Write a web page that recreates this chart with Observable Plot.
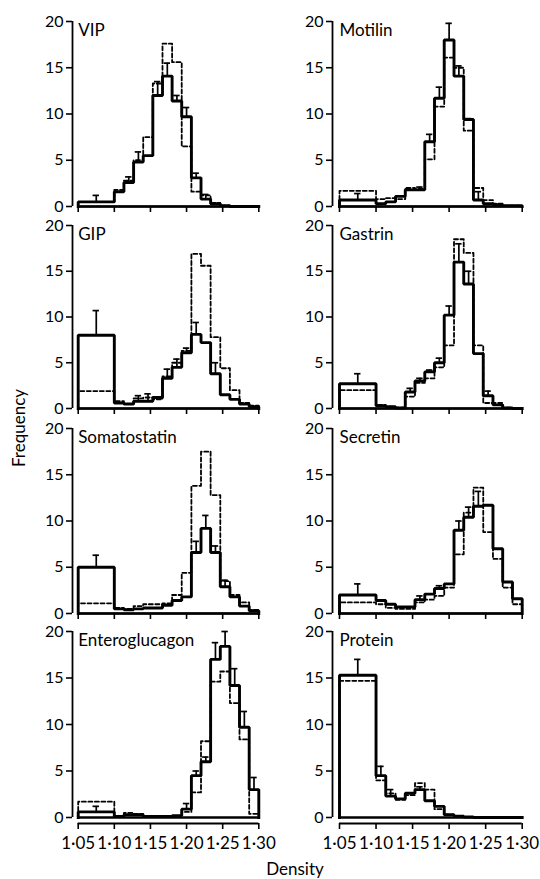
<!DOCTYPE html>
<html><head><meta charset="utf-8">
<script src="https://cdn.jsdelivr.net/npm/d3@7"></script>
<script src="https://cdn.jsdelivr.net/npm/@observablehq/plot@0.6"></script>
<style>
body{margin:0;background:#fff;}
#fig{position:relative;width:540px;height:879px;font-family:Lato,"DejaVu Sans",sans-serif;color:#000;overflow:hidden;background:#fff;}
.panel{position:absolute;}
.lab{position:absolute;font-size:17px;white-space:nowrap;line-height:20px;}
</style></head><body><div id="fig"></div>
<script>
// Bin edges of the density gradient fractions (first fraction is 1.05-1.10)
const binEdges = [1.05, 1.10, 1.1133, 1.1267, 1.14, 1.1533, 1.1667, 1.18, 1.1933, 1.2067, 1.22, 1.2333, 1.2467, 1.26, 1.2733, 1.2867, 1.30];
const xTicks = [1.05, 1.10, 1.15, 1.20, 1.25, 1.30];
const yTicks = [0, 5, 10, 15, 20];
const panelNames = ["VIP", "Motilin", "GIP", "Gastrin", "Somatostatin", "Secretin", "Enteroglucagon", "Protein"];
const xTitle = "Density";
const yTitle = "Frequency";

const vipSolid   = [0.5, 1.6, 2.6, 4.8, 5.5, 12.0, 14.1, 11.4, 9.7, 3.1, 0.8, 0.3, 0.1, 0, 0, 0];
const vipDashed  = [0.5, 1.8, 2.8, 5.0, 7.5, 13.3, 17.6, 15.6, 6.5, 1.6, 1.2, 0.4, 0.1, 0, 0, 0];
const vipError   = [1.2, null, 3.2, 5.9, null, 13.5, 15.5, 12.0, 10.7, 3.6, 1.3, null, null, null, null, null];

const motilinSolid  = [0.7, 0.3, 0.5, 1.1, 1.8, 1.8, 7.0, 11.7, 18.0, 14.1, 9.4, 0.7, 0.3, 0.2, 0.1, 0.1];
const motilinDashed = [1.7, 0.8, 0.9, 0.8, 2.0, 1.9, 5.1, 10.8, 16.1, 15.0, 8.2, 2.0, 0.7, 0.3, 0.1, 0.1];
const motilinError  = [1.4, null, null, null, null, 2.1, 7.8, 12.9, 19.8, 15.2, 9.5, 1.6, null, null, null, null];

const gipSolid  = [8.0, 0.6, 0.5, 0.8, 0.8, 1.2, 3.3, 4.5, 6.1, 8.1, 7.2, 3.8, 1.5, 1.0, 0.5, 0.2];
const gipDashed = [1.9, 0.8, 0.5, 1.1, 1.2, 1.0, 3.5, 5.0, 6.3, 16.9, 15.6, 7.8, 4.4, 2.0, 0.6, 0.3];
const gipError  = [10.7, null, null, 1.4, 1.6, null, 4.3, 5.4, 6.6, 9.4, null, 5.0, null, null, null, null];

const gastrinSolid  = [2.7, 0.3, 0.2, 0.05, 1.8, 3.0, 4.0, 5.0, 10.2, 16.0, 13.6, 6.0, 1.4, 0.4, 0.05, 0];
const gastrinDashed = [2.0, 0.4, 0.2, 0.1, 1.3, 2.8, 3.3, 4.5, 6.9, 18.5, 17.0, 6.9, 0.6, 0.6, 0.1, 0];
const gastrinError  = [3.8, null, null, null, 2.2, 3.3, 4.2, 5.5, 11.2, 18.0, 15.0, null, 1.9, null, null, null];

const somatostatinSolid  = [5.0, 0.5, 0.4, 0.5, 0.6, 0.6, 0.9, 1.4, 1.8, 6.6, 9.2, 6.6, 2.9, 1.8, 0.8, 0.3];
const somatostatinDashed = [1.1, 0.6, 0.5, 0.8, 1.0, 1.0, 1.1, 2.0, 4.4, 13.8, 17.5, 12.8, 3.5, 2.0, 1.2, 0.4];
const somatostatinError  = [6.3, null, null, null, null, null, null, null, null, 7.8, 10.6, 7.3, 3.6, null, null, null];

const secretinSolid  = [2.0, 1.4, 1.0, 0.7, 0.7, 1.5, 2.1, 2.7, 3.2, 9.0, 10.4, 11.6, 11.7, 7.0, 3.4, 1.6];
const secretinDashed = [1.2, 1.0, 0.6, 0.5, 0.5, 1.2, 1.5, 1.9, 2.8, 6.4, 10.9, 13.6, 8.8, 5.9, 2.8, 1.0];
const secretinError  = [3.2, null, null, null, null, 1.9, null, 3.0, null, 10.0, 11.5, 13.2, null, null, null, null];

const enteroglucagonSolid  = [0.6, 0.1, 0.3, 0.3, 0.1, 0.1, 0.1, 0.2, 0.9, 4.5, 6.0, 17.0, 18.4, 14.2, 9.7, 3.0];
const enteroglucagonDashed = [1.7, 0.1, 0.5, 0.4, 0.1, 0.1, 0.1, 0.1, 0.6, 2.7, 8.2, 14.6, 15.7, 12.3, 8.4, 0.4];
const enteroglucagonError  = [1.2, null, null, null, null, null, null, null, 1.5, 5.0, 6.5, 18.8, 20.0, 16.0, 11.4, 4.3];

const proteinSolid  = [15.3, 4.5, 2.3, 2.0, 2.6, 3.0, 1.8, 1.2, 0.3, 0.15, 0.05, 0, 0, 0, 0, 0];
const proteinDashed = [14.7, 4.0, 2.6, 1.9, 2.4, 3.7, 3.0, 0.9, 0.3, 0.1, 0.05, 0, 0, 0, 0, 0];
const proteinError  = [17.0, 5.5, 3.0, null, null, 3.3, null, null, null, null, null, null, null, null, null, null];

const panels = [
  {solid: vipSolid, dashed: vipDashed, err: vipError},
  {solid: motilinSolid, dashed: motilinDashed, err: motilinError},
  {solid: gipSolid, dashed: gipDashed, err: gipError},
  {solid: gastrinSolid, dashed: gastrinDashed, err: gastrinError},
  {solid: somatostatinSolid, dashed: somatostatinDashed, err: somatostatinError},
  {solid: secretinSolid, dashed: secretinDashed, err: secretinError},
  {solid: enteroglucagonSolid, dashed: enteroglucagonDashed, err: enteroglucagonError},
  {solid: proteinSolid, dashed: proteinDashed, err: proteinError}
];

// layout (pixels)
const cols = [
  {left: 0, axis: 72, x0: 77.7, x1: 258.3},
  {left: 270, axis: 332, x0: 339, x1: 521.7}
];
const rows = [
  {top: 0, h: 216, y20: 21, y0: 206},
  {top: 216, h: 204, y20: 225, y0: 408},
  {top: 420, h: 202, y20: 428, y0: 613},
  {top: 622, h: 257, y20: 631, y0: 817, axis: 823}
];

function stepPoints(vals) {
  const pts = [{x: binEdges[0], y: 0}];
  vals.forEach((v, i) => { pts.push({x: binEdges[i], y: v}); pts.push({x: binEdges[i + 1], y: v}); });
  pts.push({x: binEdges[binEdges.length - 1], y: 0});
  return pts;
}
const fmt = d => d.toFixed(2).replace(".", "\u00b7");
const fig = document.getElementById("fig");

panels.forEach((p, k) => {
  const c = cols[k % 2], r = rows[Math.floor(k / 2)];
  const bottomRow = Math.floor(k / 2) === 3;
  const pxPerX = (c.x1 - c.x0) / (1.30 - 1.05);
  const xmin = 1.05 - (c.x0 - c.axis) / pxPerX;
  const pxPerY = (r.y0 - r.y20) / 20;
  const axisPx = r.axis ?? r.y0;
  const ymin = -(axisPx - r.y0) / pxPerY;
  const errData = p.err.map((e, i) => e == null ? null : {
    xc: (binEdges[i] + binEdges[i + 1]) / 2, lo: p.solid[i], hi: e
  }).filter(d => d);
  const cap = 3.2 / pxPerX;
  const plot = Plot.plot({
    width: 270, height: r.h,
    marginLeft: c.axis - c.left,
    marginRight: 270 - (c.x1 - c.left),
    marginTop: r.y20 - r.top,
    marginBottom: r.h - (axisPx - r.top),
    x: {domain: [xmin, 1.30]},
    y: {domain: [ymin, 20]},
    style: {background: "transparent", fontFamily: "Lato, 'DejaVu Sans', sans-serif", fontSize: "17px", color: "#000", overflow: "visible"},
    marks: [
      Plot.ruleY([0], {x1: 1.05, x2: 1.30, stroke: "#000", strokeWidth: 2.6}),
      Plot.line(stepPoints(p.solid), {x: "x", y: "y", stroke: "#000", strokeWidth: 2.9, strokeLinejoin: "miter", strokeLinecap: "square"}),
      Plot.line(stepPoints(p.dashed), {x: "x", y: "y", stroke: "#000", strokeWidth: 1.8, strokeDasharray: "4,2.5"}),
      Plot.ruleX(errData, {x: "xc", y1: "lo", y2: "hi", stroke: "#000", strokeWidth: 1.7}),
      Plot.ruleY(errData, {y: "hi", x1: d => d.xc - cap, x2: d => d.xc + cap, stroke: "#000", strokeWidth: 1.7}),
      Plot.ruleX([xmin], {y1: 0, y2: 20, stroke: "#000", strokeWidth: 1.8}),
      Plot.axisY({ticks: yTicks, tickSize: 6, tickPadding: 3, label: null, fontSize: 16, strokeWidth: 1.6}),
      Plot.ruleY([ymin], {x1: 1.05, x2: 1.30, stroke: "#000", strokeWidth: 1.8}),
      Plot.axisX({ticks: xTicks, tickSize: 6, tickPadding: 7, label: null, fontSize: 17, strokeWidth: 1.6,
                  tickFormat: bottomRow ? fmt : () => ""}),
      Plot.text([panelNames[k]], {x: 1.05, y: 20, text: d => d, textAnchor: "start", lineAnchor: "top", dy: 2, fontSize: 17})
    ]
  });
  plot.classList.add("panel");
  plot.style.left = c.left + "px";
  plot.style.top = r.top + "px";
  fig.appendChild(plot);
});

const xl = document.createElement("div");
xl.className = "lab"; xl.textContent = xTitle;
xl.style.left = "295px"; xl.style.top = "859px"; xl.style.transform = "translateX(-50%)";
fig.appendChild(xl);
const yl = document.createElement("div");
yl.className = "lab"; yl.textContent = yTitle;
yl.style.left = "19px"; yl.style.top = "428px"; yl.style.transform = "translate(-50%,-50%) rotate(-90deg)";
fig.appendChild(yl);
</script></body></html>
